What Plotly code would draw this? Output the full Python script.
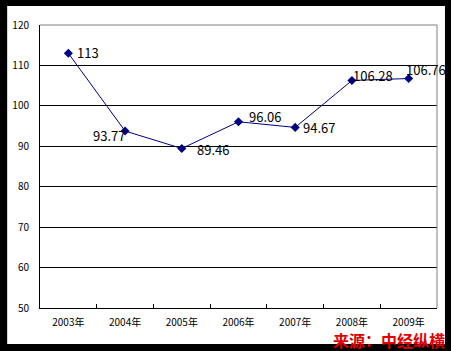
import plotly.graph_objects as go

years = ["2003年", "2004年", "2005年", "2006年", "2007年", "2008年", "2009年"]
values = [113, 93.77, 89.46, 96.06, 94.67, 106.28, 106.76]
labels = ["113", "93.77", "89.46", "96.06", "94.67", "106.28", "106.76"]
y_ticks = [50, 60, 70, 80, 90, 100, 110, 120]

# label placement (styles): anchor, x shift, y shift in px
label_anchor = ["left", "right", "left", "left", "left", "left", "left"]
label_dx = [7, 2, 13, 8, 6, -1, -5]
label_dy = [1, -4, -1, 5, 0, 5, 9]

W, H = 451, 351
L, R, T, B = 38, 437, 25, 308
def px(x):
    return (x - L) / (R - L)
def py(y):
    return (B - y) / (B - T)

fig = go.Figure()
fig.add_trace(go.Scatter(
    x=years, y=values, mode="lines+markers",
    line=dict(color="#000080", width=1),
    marker=dict(symbol="diamond", size=7, color="#000080"),
    showlegend=False,
))

annotations = []
for i in range(len(years)):
    annotations.append(dict(
        x=years[i], y=values[i], xref="x", yref="y", text=labels[i],
        showarrow=False, xanchor=label_anchor[i], yanchor="middle",
        xshift=label_dx[i], yshift=label_dy[i],
        font=dict(family="Noto Sans CJK SC", size=13, color="#000000"),
    ))
annotations.append(dict(
    text="<b>来源：中经纵横</b>", xref="paper", yref="paper",
    x=px(446), y=py(340), xanchor="right", yanchor="middle",
    showarrow=False, borderpad=0,
    font=dict(family="Noto Sans CJK SC", size=16, color="#e00000"),
))

fig.update_layout(
    width=W, height=H,
    margin=dict(l=L, r=W - R, t=T, b=H - B),
    paper_bgcolor="black", plot_bgcolor="white",
    xaxis=dict(type="category", range=[-0.5, len(years) - 0.5],
               showgrid=False, showline=True, linecolor="black",
               linewidth=1, ticks="inside", ticklen=4, tickcolor="black",
               tickson="boundaries", ticklabelstandoff=5,
               tickfont=dict(family="Noto Sans CJK SC", size=10, color="black")),
    yaxis=dict(range=[50, 120], tickvals=y_ticks, showgrid=True, gridcolor="black",
               gridwidth=1, showline=True, linecolor="black", linewidth=1,
               ticks="", ticklabelstandoff=8, zeroline=False,
               tickfont=dict(family="Noto Sans CJK SC", size=10, color="black")),
    shapes=[
        dict(type="rect", xref="paper", yref="paper", layer="below",
             x0=px(5), x1=px(445), y0=py(344), y1=py(6),
             fillcolor="white", line=dict(width=0)),
        dict(type="line", xref="paper", yref="paper", x0=0, x1=1, y0=1, y1=1,
             line=dict(color="#808080", width=1)),
        dict(type="line", xref="paper", yref="paper", x0=1, x1=1, y0=0, y1=1,
             line=dict(color="#808080", width=1)),
    ],
    annotations=annotations,
)

fig.write_html("out.html")
